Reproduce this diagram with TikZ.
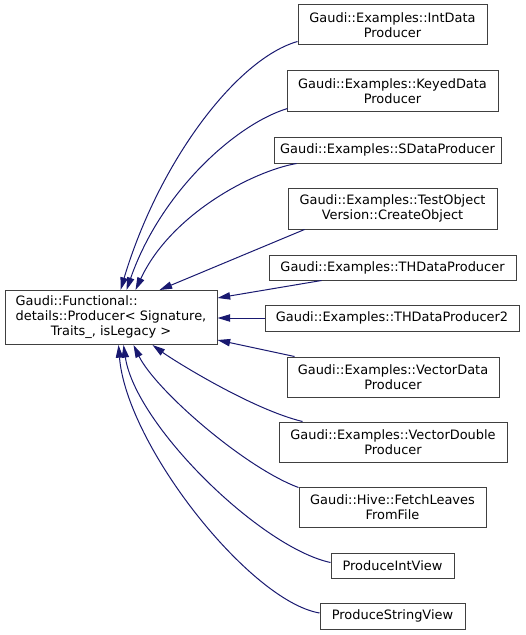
\documentclass[tikz,border=0pt]{standalone}
\usepackage{fontspec}
\setmainfont{DejaVu Sans}
\usetikzlibrary{arrows.meta,calc}
\definecolor{edgeblue}{HTML}{191970}
\definecolor{boxgray}{HTML}{404040}

\begin{document}
\begin{tikzpicture}[
    x=0.75pt, y=-0.75pt,
    font=\fontsize{9.7pt}{11pt}\selectfont,
    >={Triangle[length=9.5pt,width=5.5pt]},
    cls/.style={draw=boxgray, line width=0.75pt, inner sep=0pt, align=center, minimum height=30pt},
    cls1/.style={cls, minimum height=19.5pt},
    inh/.style={->, draw=edgeblue, line width=0.75pt},
  ]
  \useasboundingbox (0,0) rectangle (525,635);
  \node[cls, minimum width=159pt, minimum height=40.5pt] (base) at (111,317.5)
    {\begin{tabular}{@{}l@{}}Gaudi::Functional::\\details::Producer< Signature,\\\multicolumn{1}{@{}c@{}}{Traits\_, isLegacy >}\end{tabular}};

  \node[cls, minimum width=141.75pt] (intdata) at (392.5,25) {Gaudi::Examples::IntData\\Producer};
  \node[cls, minimum width=158.25pt] (keyed) at (392.5,91) {Gaudi::Examples::KeyedData\\Producer};
  \node[cls1, minimum width=170.25pt] (sdata) at (387.5,150) {Gaudi::Examples::SDataProducer};
  \node[cls, minimum width=156.75pt, minimum height=30.75pt] (testobj) at (392.5,208.5) {Gaudi::Examples::TestObject\\Version::CreateObject};
  \node[cls1, minimum width=185.25pt, minimum height=18.75pt] (thdata) at (392.5,267.5) {Gaudi::Examples::THDataProducer};
  \node[cls1, minimum width=190.5pt] (thdata2) at (392,318) {Gaudi::Examples::THDataProducer2};
  \node[cls, minimum width=159pt] (vecdata) at (393,377) {Gaudi::Examples::VectorData\\Producer};
  \node[cls, minimum width=171pt] (vecdouble) at (393,442) {Gaudi::Examples::VectorDouble\\Producer};
  \node[cls, minimum width=140.25pt] (fetch) at (392.5,507) {Gaudi::Hive::FetchLeaves\\FromFile};
  \node[cls1, minimum width=92.25pt, minimum height=18.75pt] (intview) at (392.5,565.5) {ProduceIntView};
  \node[cls1, minimum width=108.75pt] (strview) at (392.5,616) {ProduceStringView};

  % derived classes above the base
  \draw[inh] ($(intdata.south west)+(0,-4)$) .. controls +(-60,17) and +(39,-130) .. ($(base.north west)+(116,0)$);
  \draw[inh] ($(keyed.south west)+(1,-3)$) .. controls +(-50,15) and +(35,-100) .. ($(base.north west)+(122,0)$);
  \draw[inh] ($(sdata.south west)+(23,0)$) .. controls +(-45,8) and +(35,-75) .. ($(base.north west)+(131,0)$);
  \draw[inh] ($(testobj.south west)+(17,0)$) -- ($(base.north west)+(155,0)$);
  % straight in from the right
  \draw[inh] ($(thdata.south west)+(53,0)$) -- ($(base.east)+(0,-19.5)$);
  \draw[inh] (thdata2.west) -- (thdata2.west -| base.east);
  \draw[inh] ($(vecdata.north west)+(8,0)$) -- ($(base.east)+(0,22.5)$);
  % derived classes below the base
  \draw[inh] ($(vecdouble.north west)+(24,0)$) .. controls +(-50,-12) and +(22,16) .. ($(base.south west)+(148,0)$);
  \draw[inh] ($(fetch.north west)+(0,1)$) .. controls +(-54,-20) and +(22,45) .. ($(base.south west)+(129,0)$);
  \draw[inh] ($(intview.west)+(0,-3)$) .. controls +(-70,-15) and +(12,80) .. ($(base.south west)+(119,0)$);
  \draw[inh] ($(strview.west)+(0,-3)$) .. controls +(-70,-12) and +(8,100) .. ($(base.south west)+(114,0)$);
\end{tikzpicture}
\end{document}
